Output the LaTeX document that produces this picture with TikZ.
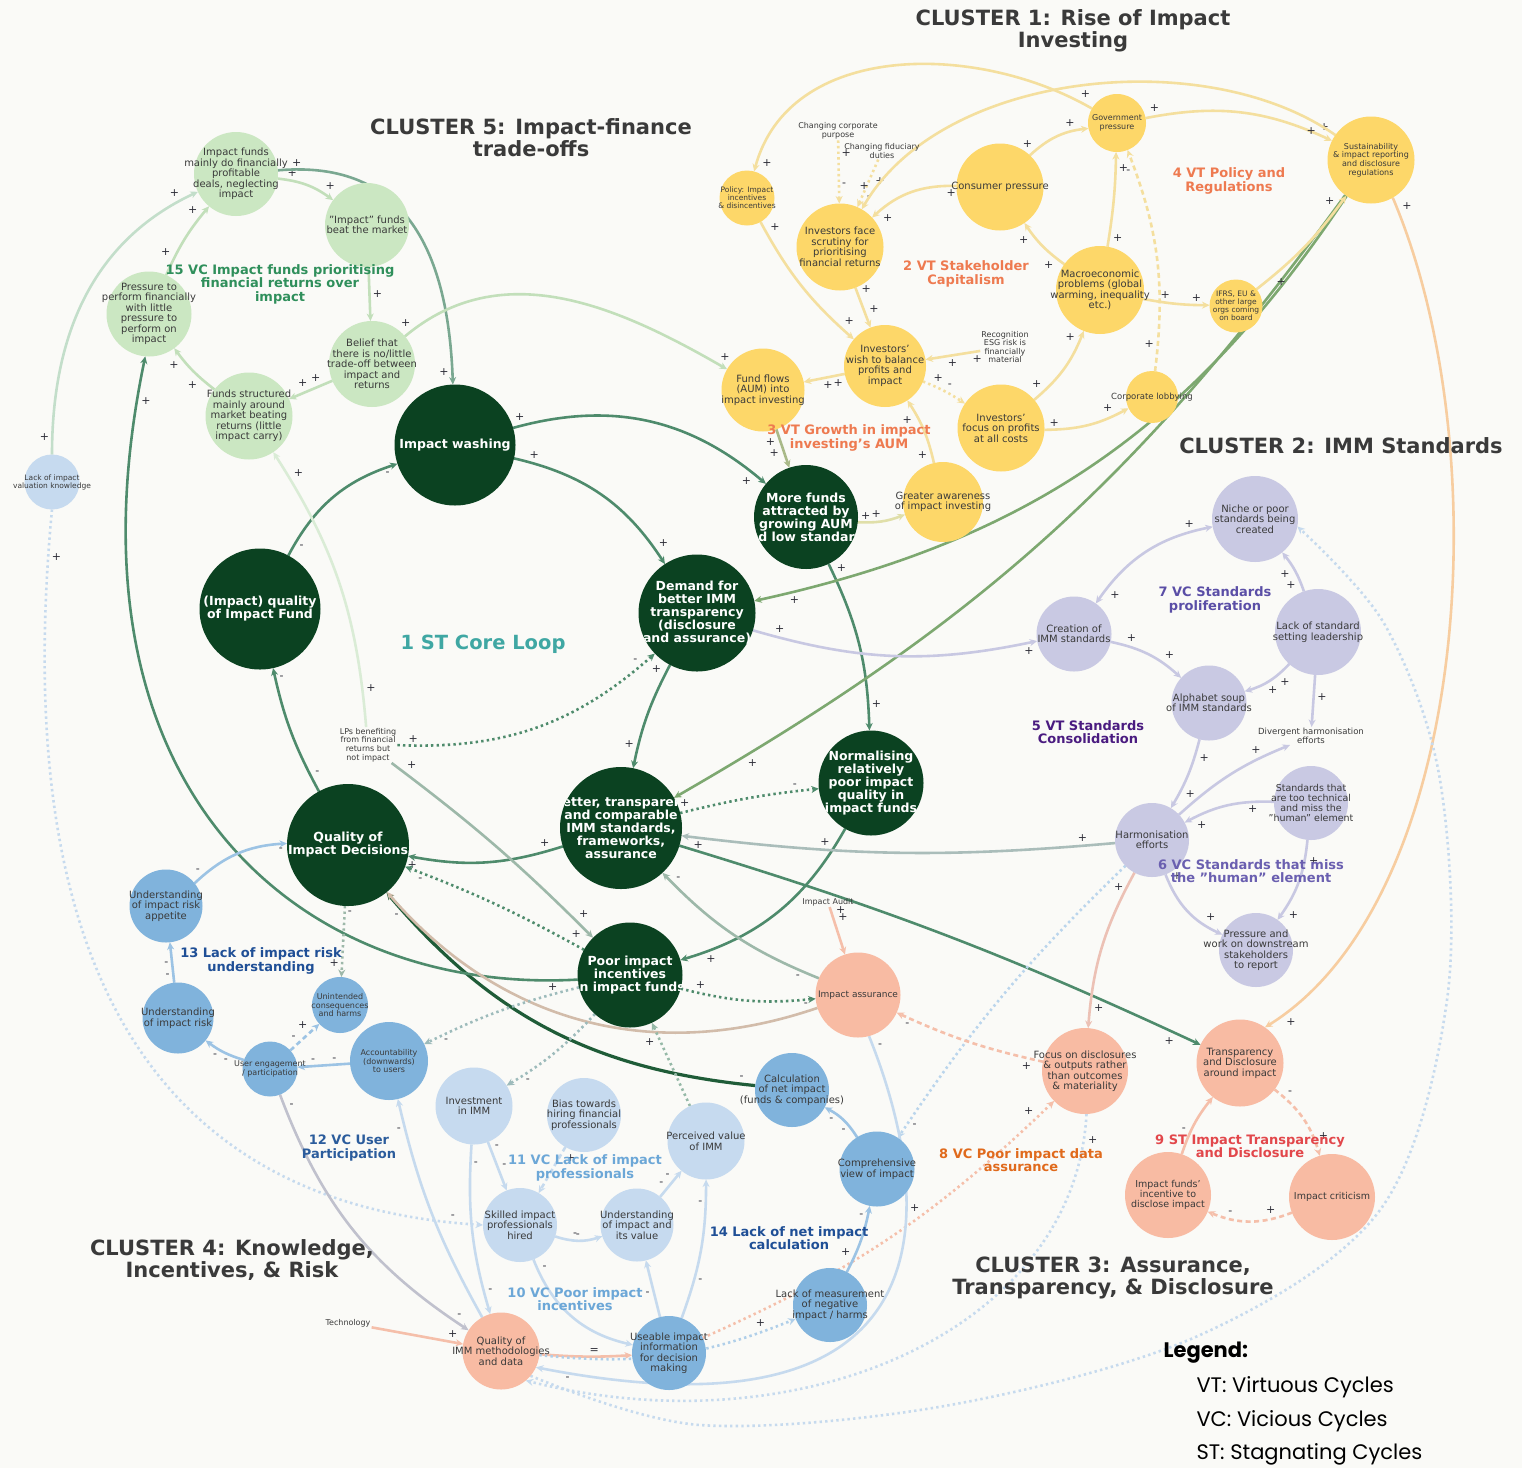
\documentclass[tikz,border=0pt]{standalone}
\usepackage{fontspec}
\setmainfont{DejaVu Sans}
\newfontfamily\legendfont{Poppins}
\usetikzlibrary{arrows.meta}
\pgfdeclarelayer{back}
\pgfdeclarelayer{links}
\pgfsetlayers{back,links,main}

\definecolor{paper}{HTML}{FAFAF7}
\definecolor{corefill}{HTML}{0B4221}
\definecolor{yelfill}{HTML}{FDD769}
\definecolor{grnfill}{HTML}{CBE7C2}
\definecolor{lavfill}{HTML}{C9C9E3}
\definecolor{salfill}{HTML}{F8BBA3}
\definecolor{blufill}{HTML}{80B3DC}
\definecolor{lblfill}{HTML}{C6DAEF}
\definecolor{txtc}{HTML}{3A3A3A}
\definecolor{sgc}{HTML}{2E2E38}
\definecolor{titlec}{HTML}{3A3A3A}
\definecolor{ecore}{HTML}{4E8B6C}
\definecolor{edark}{HTML}{1F5C38}
\definecolor{eyel}{HTML}{F4DF9E}
\definecolor{eolive}{HTML}{7DA870}
\definecolor{egrn}{HTML}{C2DFBA}
\definecolor{elav}{HTML}{C8C8E2}
\definecolor{esal}{HTML}{F5BFAA}
\definecolor{eblu}{HTML}{9CC3E4}
\definecolor{epale}{HTML}{C6DAEE}
\definecolor{eora}{HTML}{F7CDA0}
\definecolor{egray}{HTML}{9DB8A9}
% loop name colours
\definecolor{cteal}{HTML}{3FA7A3}
\definecolor{corg}{HTML}{EE7A50}
\definecolor{cgrn}{HTML}{2F8F5B}
\definecolor{cpur}{HTML}{5A4EA6}
\definecolor{cdpur}{HTML}{4A1B80}
\definecolor{cmpur}{HTML}{6A5FB0}
\definecolor{cdorg}{HTML}{E06A1C}
\definecolor{cred}{HTML}{E2474B}
\definecolor{cnavy}{HTML}{1F4F96}
\definecolor{cnavy2}{HTML}{2B5C9C}
\definecolor{csky}{HTML}{6CA7D7}

\tikzset{
  bubble/.style={circle, inner sep=0pt, outer sep=0pt},
  core/.style={bubble, fill=corefill},
  yel/.style={bubble, fill=yelfill},
  grn/.style={bubble, fill=grnfill},
  lav/.style={bubble, fill=lavfill},
  sal/.style={bubble, fill=salfill},
  blu/.style={bubble, fill=blufill},
  lbl/.style={bubble, fill=lblfill},
  coret/.style={text=white, align=center, inner sep=0pt, font=\fontsize{12.5}{13}\selectfont\bfseries},
  plaint/.style={text=txtc, align=center, inner sep=0pt},
  note/.style={text=txtc, align=center, inner sep=1pt, font=\fontsize{8}{8.6}\selectfont},
  link/.style={line width=2.6pt, -{Stealth[length=7.5pt,width=7pt]}},
  lc/.style={link, draw=ecore},
  ly/.style={link, draw=eyel},
  lg/.style={link, draw=egrn},
  ll/.style={link, draw=elav},
  ls/.style={link, draw=esal},
  lb/.style={link, draw=eblu},
  lp/.style={link, draw=epale},
  dotl/.style={dash pattern=on 2.4pt off 3.2pt},
  dshl/.style={dash pattern=on 5pt off 3.5pt},
  sg/.style={auto, font=\fontsize{11}{11}\selectfont, text=sgc, inner sep=2pt},
  loopname/.style={font=\fontsize{13}{13.5}\selectfont\bfseries, align=center},
  title/.style={font=\fontsize{21}{22}\selectfont\bfseries, align=center, text=titlec},
  legendt/.style={anchor=west, text=black, font=\legendfont\fontsize{21}{21}\selectfont},
}

% core bubble: text clipped to the disc
\newcommand\corebub[4]{\node[core, minimum size=#1pt,
  path picture={\node[coret] at (path picture bounding box.center) {#4};}] (#2) at (#3) {};}
% ordinary bubble: style, diameter, font size, leading, name, position, text
\newcommand\bub[7]{\node[#1, minimum size=#2pt,
  label={[plaint, font=\fontsize{#3}{#4}\selectfont]center:{#7}}] (#5) at (#6) {};}

\begin{document}
\begin{tikzpicture}[x=1pt,y=1pt]
\begin{pgfonlayer}{back}
\fill[paper] (0,0) rectangle (1522,-1468);
\end{pgfonlayer}
\useasboundingbox (0,0) rectangle (1522,-1468);

% ---------------- core loop
\corebub{121}{iw}{455,-445}{Impact washing}
\corebub{104}{mf}{806,-517}{More funds\\attracted by\\growing AUM\\and low standards}
\corebub{117}{db}{697,-613}{Demand for\\better IMM\\transparency\\(disclosure\\and assurance)}
\corebub{121}{iq}{260,-609}{(Impact) quality\\of Impact Fund}
\corebub{105}{nr}{871,-783}{Normalising\\relatively\\poor impact\\quality in\\impact funds}
\corebub{122}{bt}{621,-828}{Better, transparent\\and comparable\\IMM standards,\\frameworks,\\assurance}
\corebub{122}{qd}{348,-845}{Quality of\\Impact Decisions}
\corebub{105}{pi}{630,-975}{Poor impact\\incentives\\in impact funds}
\node[note] (lps) at (368,-745) {LPs benefiting\\from financial\\returns but\\not impact};

% ---------------- cluster 1
\bub{yel}{58}{8}{8.6}{gp}{1117,-123}{Government\\pressure}
\bub{yel}{87}{8}{8.6}{si}{1371,-160}{Sustainability\\\& impact reporting\\and disclosure\\regulations}
\bub{yel}{55}{7.5}{8}{po}{747,-198}{Policy: Impact\\incentives\\\& disincentives}
\bub{yel}{87}{10}{10.5}{cp}{1000,-187}{Consumer pressure}
\bub{yel}{87}{10}{10.5}{iff}{840,-247}{Investors face\\scrutiny for\\prioritising\\financial returns}
\bub{yel}{88}{10}{10.5}{mp}{1100,-290}{Macroeconomic\\problems (global\\warming, inequality\\etc.)}
\bub{yel}{53}{7.5}{8}{ir}{1236,-306}{IFRS, EU \&\\other large\\orgs coming\\on board}
\bub{yel}{82}{10}{10.5}{ib}{885,-366}{Investors'\\wish to balance\\profits and\\impact}
\bub{yel}{83}{10}{10.5}{ff}{763,-390}{Fund flows\\(AUM) into\\impact investing}
\bub{yel}{52}{8.5}{9}{cl}{1152,-397}{Corporate lobbying}
\bub{yel}{87}{10}{10.5}{ip}{1001,-428}{Investors'\\focus on profits\\at all costs}
\bub{yel}{80}{10}{10.5}{ga}{943,-502}{Greater awareness\\of impact investing}
\node[note] (re) at (1005,-347) {Recognition\\ESG risk is\\financially\\material};
\node[note] (ccp) at (838,-131) {Changing corporate\\purpose};
\node[note] (cfd) at (882,-151) {Changing fiduciary\\duties};

% ---------------- cluster 5
\bub{grn}{84}{10}{10.5}{ifm}{236,-174}{Impact funds\\mainly do financially\\profitable\\deals, neglecting\\impact}
\bub{grn}{84}{10}{10.5}{bm}{367,-225}{"Impact" funds\\beat the market}
\bub{grn}{85}{10}{10.5}{pp}{149,-314}{Pressure to\\perform financially\\with little\\pressure to\\perform on\\impact}
\bub{grn}{86}{10}{10.5}{bl}{372,-364}{Belief that\\there is no/little\\trade-off between\\impact and\\returns}
\bub{grn}{87}{10}{10.5}{fs}{249,-416}{Funds structured\\mainly around\\market beating\\returns (little\\impact carry)}
\bub{lbl}{55}{7.5}{8}{lv}{52,-482}{Lack of impact\\valuation knowledge}

% ---------------- cluster 2
\bub{lav}{86}{10}{10.5}{np}{1255,-519}{Niche or poor\\standards being\\created}
\bub{lav}{75}{10}{10.5}{ci}{1074,-634}{Creation of\\IMM standards}
\bub{lav}{86}{10}{10.5}{ls}{1318,-632}{Lack of standard\\setting leadership}
\bub{lav}{75}{10}{10.5}{as}{1209,-703}{Alphabet soup\\of IMM standards}
\node[note, font=\fontsize{8.5}{9}\selectfont] (dh) at (1311,-736) {Divergent harmonisation\\efforts};
\bub{lav}{74}{9.5}{10}{st}{1311,-803}{Standards that\\are too technical\\and miss the\\"human" element}
\bub{lav}{74}{10}{10.5}{he}{1152,-840}{Harmonisation\\efforts}
\bub{lav}{74}{10}{10.5}{pw}{1256,-950}{Pressure and\\work on downstream\\stakeholders\\to report}

% ---------------- cluster 3
\bub{sal}{85}{9}{9.5}{ia}{858,-995}{Impact assurance}
\bub{sal}{86}{10}{10.5}{fd}{1085,-1071}{Focus on disclosures\\\& outputs rather\\than outcomes\\\& materiality}
\bub{sal}{87}{10}{10.5}{td}{1240,-1063}{Transparency\\and Disclosure\\around impact}
\bub{sal}{86}{9.5}{10}{ifi}{1168,-1195}{Impact funds'\\incentive to\\disclose impact}
\bub{sal}{86}{9.5}{10}{ic}{1332,-1197}{Impact criticism}
\node[note] (iau) at (828,-902) {Impact Audit};

% ---------------- cluster 4
\bub{blu}{73}{10}{10.5}{ua}{166,-906}{Understanding\\of impact risk\\appetite}
\bub{blu}{71}{10}{10.5}{ur}{178,-1018}{Understanding\\of impact risk}
\bub{blu}{56}{8}{8.5}{uc}{340,-1005}{Unintended\\consequences\\and harms}
\bub{blu}{55}{8}{8.5}{ue}{270,-1069}{User engagement\\/ participation}
\bub{blu}{78}{8}{8.5}{au}{389,-1061}{Accountability\\(downwards)\\to users}
\bub{blu}{74}{10}{10.5}{cn}{792,-1090}{Calculation\\of net impact\\(funds \& companies)}
\bub{blu}{75}{10}{10.5}{cv}{877,-1169}{Comprehensive\\view of impact}
\bub{blu}{74}{10}{10.5}{lm}{830,-1305}{Lack of measurement\\of negative\\impact / harms}
\bub{blu}{74}{10}{10.5}{ui}{669,-1353}{Useable impact\\information\\for decision\\making}
\bub{lbl}{77}{10}{10.5}{ii}{474,-1106}{Investment\\in IMM}
\bub{lbl}{74}{10}{10.5}{bh}{584,-1115}{Bias towards\\hiring financial\\professionals}
\bub{lbl}{77}{10}{10.5}{pv}{706,-1141}{Perceived value\\of IMM}
\bub{lbl}{74}{10}{10.5}{sk}{520,-1225}{Skilled impact\\professionals\\hired}
\bub{lbl}{73}{10}{10.5}{uv}{637,-1225}{Understanding\\of impact and\\its value}
\bub{sal}{77}{10}{10.5}{qm}{501,-1351}{Quality of\\IMM methodologies\\and data}
\node[note] (tech) at (348,-1323) {Technology};

% ---------------- connectors
\begin{pgfonlayer}{links}
% core loop
\draw[lc] (iq) to[bend left=22] node[sg,pos=.1,swap]{-} node[sg,pos=.9,swap]{-} (iw);
\draw[lc] (iw) to[bend left=22] node[sg,pos=.06]{+} node[sg,pos=.92]{+} (db);
\draw[lc] (iw) to[bend left=28] node[sg,pos=.05]{+} node[sg,pos=.95,swap]{+} (mf);
\draw[lc] (db) to[bend right=8] node[sg,pos=.1,swap]{+} node[sg,pos=.85,swap]{+} (bt);
\draw[lc] (mf) to[bend left=12] node[sg,pos=.06]{+} node[sg,pos=.9]{+} (nr);
\draw[lc] (nr) to[bend left=22] node[sg,pos=.1,swap]{+} node[sg,pos=.9]{+} (pi);
\draw[lc] (bt) to[bend left=14] node[sg,pos=.06,swap]{+} node[sg,pos=.93]{+} (qd);
\draw[lc] (qd) to[bend left=8] node[sg,pos=.1,swap]{-} node[sg,pos=.9,swap]{-} (iq);
\draw[lc, dotl] (pi) to[bend right=4] node[sg,pos=.08,swap]{+} node[sg,pos=.9]{-} (qd);
\draw[link, draw=edark, line width=3.2pt] (cn) to[bend left=22] node[sg,pos=.04,swap]{-} node[sg,pos=.95]{-} (qd);
\draw[lc] (pi.185) .. controls (300,-995) and (55,-790) .. node[sg,pos=.03]{+} node[sg,pos=.97,swap]{+} (pp.-95);
\draw[lc, dotl] (lps) to[bend right=22] node[sg,pos=.05]{+} node[sg,pos=.94]{-} (db);
\draw[link, draw=egray] (lps) to[bend left=4] node[sg,pos=.05]{+} node[sg,pos=.92]{+} (pi);
\draw[lc, dotl] (bt) to[bend left=4] node[sg,pos=.08]{+} node[sg,pos=.88]{-} (nr);
\draw[link, draw=egray] (ia) to[bend left=12] node[sg,pos=.08]{-} node[sg,pos=.93,swap]{-} (bt);
\draw[lc, dotl] (pi) to[bend right=10] node[sg,pos=.08]{+} node[sg,pos=.9,swap]{-} (ia);
\draw[link, draw=esal!60!egray] (ia) to[bend left=34] (qd);
\draw[link, draw=eolive] (si) to[bend left=22] node[sg,pos=.96]{+} (db);
\draw[link, draw=eolive] (si) to[bend left=12] node[sg,pos=.92]{+} (bt);
\draw[link, draw=egray!70!elav] (he) to[bend left=6] node[sg,pos=.05,swap]{+} node[sg,pos=.95]{+} (bt);
\draw[lc] (bt) to[bend left=4] node[sg,pos=.96,swap]{+} (td);
\draw[ll] (db) to[bend right=14] node[sg,pos=.06]{+} node[sg,pos=.95,swap]{+} (ci);
\draw[link, draw=eyel!60!egrn] (mf) to[bend right=12] node[sg,pos=.15]{+} node[sg,pos=.55]{+} (ga);

% cluster 1
\draw[ly] (gp) to[bend left=18] node[sg,pos=.08]{+} node[sg,pos=.92]{+} (si);
\draw[ly] (cp) to[bend left=18] node[sg,pos=.1]{+} node[sg,pos=.85]{+} (gp);
\draw[ly] (mp) to[bend left=10] node[sg,pos=.15]{+} node[sg,pos=.8]{+} (cp);
\draw[ly] (mp) to[bend right=4] node[sg,pos=.15,swap]{+} node[sg,pos=.85,swap]{+} (gp);
\draw[ly] (mp) to[bend right=5] node[sg,pos=.2]{+} node[sg,pos=.7]{+} (ir);
\draw[ly] (ir) to[bend right=8] node[sg,pos=.15,swap]{+} node[sg,pos=.9]{+} (si);
\draw[ly] (cp) to[bend right=22] node[sg,pos=.05]{+} node[sg,pos=.9]{+} (iff);
\draw[ly, dshl] (cl) to[bend right=14] node[sg,pos=.08]{+} node[sg,pos=.93]{-} (gp);
\draw[ly] (ip) to[bend right=14] node[sg,pos=.1]{+} node[sg,pos=.85]{+} (cl);
\draw[ly] (ip) to[bend right=14] node[sg,pos=.15]{+} node[sg,pos=.85]{+} (mp);
\draw[ly] (ga) to[bend right=10] node[sg,pos=.2]{+} node[sg,pos=.8]{+} (ib);
\draw[ly, dotl] (ib) to[bend left=6] node[sg,pos=.15]{+} node[sg,pos=.5]{-} (ip);
\draw[ly] (re) -- node[sg,pos=.2]{+} node[sg,pos=.65]{+} (ib);
\draw[ly] (ib) -- node[sg,pos=.35]{+} node[sg,pos=.6]{+} (ff);
\draw[ly] (iff) -- node[sg,pos=.2]{+} node[sg,pos=.7]{+} (ib);
\draw[ly] (po) to[bend right=10] node[sg,pos=.08]{+} node[sg,pos=.9]{+} (ib);
\draw[link, draw=eyel!55!ecore] (ff) -- node[sg,pos=.15,swap]{+} node[sg,pos=.45,swap]{+} (mf);
\draw[ly, dotl] (ccp) -- node[sg,pos=.2]{+} node[sg,pos=.7]{-} (iff);
\draw[ly, dotl] (cfd) -- node[sg,pos=.3]{+} node[sg,pos=.7]{-} (iff);
\draw[ly] (gp) to[out=150,in=75] node[sg,pos=.04,swap]{+} node[sg,pos=.96]{+} (po);
\draw[ly] (si) to[out=145,in=60,looseness=.85] node[sg,pos=.04]{+} node[sg,pos=.96,swap]{+} (iff);
\draw[link, draw=eora] (si.-60) .. controls (1500,-450) and (1470,-900) .. node[sg,pos=.02]{+} node[sg,pos=.97]{+} (td.55);

% cluster 5
\draw[lg] (ifm) to[bend left=15] node[sg,pos=.1]{+} node[sg,pos=.8]{+} (bm);
\draw[lg] (bm) -- node[sg,pos=.5]{+} (bl);
\draw[lg] (bl) -- node[sg,pos=.2,swap]{+} node[sg,pos=.5,swap]{+} (fs);
\draw[lg] (fs) to[bend left=8] node[sg,pos=.3]{+} node[sg,pos=.8]{+} (pp);
\draw[lg] (pp) to[bend left=8] node[sg,pos=.2]{+} node[sg,pos=.85]{+} (ifm);
\draw[link, draw=egrn!70!epale] (lv) to[out=90,in=205] node[sg,pos=.05]{+} node[sg,pos=.95]{+} (ifm);
\draw[link, draw=ecore!75!white] (ifm) to[out=5,in=92,looseness=1.2] node[sg,pos=.05]{+} node[sg,pos=.95,swap]{+} (iw);
\draw[lg] (bl) to[out=40,in=150] node[sg,pos=.03]{+} node[sg,pos=.97]{+} (ff);
\draw[link, draw=egrn!60!white] (lps) to[bend right=14] node[sg,pos=.1,swap]{+} node[sg,pos=.9,swap]{+} (fs);
\draw[lp, dotl] (lv.-90) .. controls (20,-850) and (80,-1200) .. node[sg,pos=.04]{+} node[sg,pos=.97]{-} (sk.180);

% cluster 2
\draw[ll, {Stealth[length=7.5pt,width=7pt]}-{Stealth[length=7.5pt,width=7pt]}] (np) to[bend right=22] node[sg,pos=.1,swap]{+} node[sg,pos=.88]{+} (ci);
\draw[ll] (ci) to[bend left=15] node[sg,pos=.15]{+} node[sg,pos=.7]{+} (as);
\draw[ll] (ls) to[bend left=15] node[sg,pos=.3]{+} node[sg,pos=.6]{+} (as);
\draw[ll] (ls) to[bend right=10] node[sg,pos=.3]{+} node[sg,pos=.6]{+} (np);
\draw[ll] (ls) -- node[sg,pos=.3]{+} (dh);
\draw[ll] (as) to[bend left=8] node[sg,pos=.15]{+} node[sg,pos=.7]{+} (he);
\draw[ll] (he) to[bend left=10] node[sg,pos=.8]{+} (dh);
\draw[ll] (st) to[bend right=15] node[sg,pos=.3]{+} node[sg,pos=.9]{+} (he);
\draw[ll] (st) to[bend left=15] node[sg,pos=.15]{+} node[sg,pos=.85]{+} (pw);
\draw[ll] (he) to[bend right=22] node[sg,pos=.1]{+} node[sg,pos=.75]{+} (pw);
\draw[link, draw=esal!80!elav] (he) to[bend right=12] node[sg,pos=.85]{+} (fd);
\draw[link, draw=eblu!70!white, dotl] (he) to[bend right=6] node[sg,pos=.05]{+} node[sg,pos=.95]{-} (cv);
\draw[lp, dotl] plot[smooth, tension=.55] coordinates {(qm.-40) (700,-1425) (950,-1405) (1200,-1335) (1380,-1210) (1447,-1000) (1440,-780) (1385,-625) (np.-10)};

% cluster 3
\draw[ls] (iau) -- node[sg,pos=.2]{+} node[sg,pos=.35]{+} (ia);
\draw[ls, dshl] (fd) to[bend left=6] node[sg,pos=.05]{+} node[sg,pos=.9]{-} (ia);
\draw[ls, dshl] (td) to[bend left=18] node[sg,pos=.15]{-} node[sg,pos=.85]{+} (ic);
\draw[ls, dshl] (ic) to[bend left=22] node[sg,pos=.15,swap]{+} node[sg,pos=.8,swap]{-} (ifi);
\draw[ls] (ifi) to[bend left=10] node[sg,pos=.3]{-} (td);
\draw[ls, dotl] (ui) to[bend right=10] node[sg,pos=.6]{+} node[sg,pos=.95]{+} (fd);
\draw[lp, dotl] (fd.-88) .. controls (1075,-1330) and (800,-1450) .. node[sg,pos=.03]{+} (qm.-50);
\draw[lp] (ia.-75) .. controls (935,-1200) and (960,-1450) .. node[sg,pos=.03]{-} node[sg,pos=.97]{-} (qm.-25);

% cluster 4
\draw[lb] (ua) to[bend left=20] node[sg,pos=.1]{-} node[sg,pos=.9,swap]{-} (qd);
\draw[lb] (ur) -- node[sg,pos=.3]{-} node[sg,pos=.6]{-} (ua);
\draw[lb] (ue) to[bend left=10] node[sg,pos=.3]{-} node[sg,pos=.6]{-} (ur);
\draw[lb] (au) -- node[sg,pos=.2,swap]{-} node[sg,pos=.6,swap]{-} (ue);
\draw[lb, dshl] (ue) -- node[sg,pos=.3]{-} node[sg,pos=.7]{+} (uc);
\draw[link, draw=egray, dotl] (qd) -- node[sg,pos=.1]{-} node[sg,pos=.8,swap]{+} (uc);
\draw[link, draw=egray!70!eblu, dotl] (pi) to[bend right=6] node[sg,pos=.9]{-} (au);
\draw[link, draw=egray!70!eblu, dotl] (pi) to[bend left=8] node[sg,pos=.85]{-} (ii);
\draw[link, draw=eblu!60!esal] (ue) to[bend right=18] node[sg,pos=.05]{-} node[sg,pos=.95]{-} (qm);
\draw[lp] (qm) to[bend left=8] node[sg,pos=.9]{-} (au);
\draw[lp] (ii) to[bend right=10] node[sg,pos=.1]{-} node[sg,pos=.9]{-} (qm);
\draw[lp] (ii) -- node[sg,pos=.2]{-} node[sg,pos=.6]{-} (sk);
\draw[lp] (sk) to[bend right=18] node[sg,pos=.3]{-} node[sg,pos=.6]{-} (uv);
\draw[lp, dshl] (bh) -- node[sg,pos=.1]{+} (sk);
\draw[lp] (uv) -- node[sg,pos=.3]{-} node[sg,pos=.6]{-} (pv);
\draw[lp] (ui) -- node[sg,pos=.5]{-} (uv);
\draw[lp] (ui) to[bend right=10] node[sg,pos=.3,swap]{-} node[sg,pos=.85]{-} (pv);
\draw[lp] (sk) to[bend right=28] node[sg,pos=.1]{-} (ui);
\draw[ls] (qm) to[bend right=4] node[sg,pos=.6]{=} (ui);
\draw[link, draw=ecore!60!white, dotl] (pv) -- node[sg,pos=.85]{+} (pi);
\draw[lb] (cv) to[bend right=15] node[sg,pos=.3]{-} node[sg,pos=.7]{-} (cn);
\draw[lb] (lm) to[bend right=8] node[sg,pos=.2]{+} node[sg,pos=.8]{-} (cv);
\draw[ls] (tech) -- node[sg,pos=.8]{+} (qm);
\draw[link, draw=eblu!80!white, dotl] (qm) to[bend right=14] node[sg,pos=.9]{+} (lm);
\end{pgfonlayer}

% ---------------- loop names
\node[loopname, text=cteal, font=\fontsize{19.5}{20}\selectfont\bfseries] (n1) at (483,-644) {1 ST Core Loop};
\node[loopname, text=corg] (n2) at (966,-274) {2 VT Stakeholder\\Capitalism};
\node[loopname, text=corg] (n3) at (849,-438) {3 VT Growth in impact\\investing's AUM};
\node[loopname, text=corg] (n4) at (1229,-181) {4 VT Policy and\\Regulations};
\node[loopname, text=cdpur] (n5) at (1088,-732) {5 VT Standards\\Consolidation};
\node[loopname, text=cmpur] (n6) at (1251,-871) {6 VC Standards that miss\\the "human" element};
\node[loopname, text=cpur] (n7) at (1215,-600) {7 VC Standards\\proliferation};
\node[loopname, text=cdorg] (n8) at (1021,-1160) {8 VC Poor impact data\\assurance};
\node[loopname, text=cred] (n9) at (1250,-1146) {9 ST Impact Transparency\\and Disclosure};
\node[loopname, text=csky] (n10) at (575,-1299) {10 VC Poor impact\\incentives};
\node[loopname, text=csky] (n11) at (585,-1168) {11 VC Lack of impact\\professionals};
\node[loopname, text=cnavy2] (n12) at (349,-1148) {12 VC User\\Participation};
\node[loopname, text=cnavy] (n13) at (261,-961) {13 Lack of impact risk\\understanding};
\node[loopname, text=cnavy] (n14) at (789,-1238) {14 Lack of net impact\\calculation};
\node[loopname, text=cgrn] (n15) at (280,-284) {15 VC Impact funds prioritising\\financial returns over\\impact};

% ---------------- cluster titles
\node[title] (t1) at (1073,-31) {CLUSTER 1: Rise of Impact\\Investing};
\node[title] (t5) at (531,-138) {CLUSTER 5: Impact-finance\\trade-offs};
\node[title] (t2) at (1341,-446) {CLUSTER 2: IMM Standards};
\node[title] (t3) at (1113,-1278) {CLUSTER 3: Assurance,\\Transparency, \& Disclosure};
\node[title] (t4) at (232,-1260) {CLUSTER 4: Knowledge,\\Incentives, \& Risk};

% ---------------- legend
\node[legendt, font=\legendfont\fontsize{21}{21}\selectfont\bfseries] (lg0) at (1160,-1353) {Legend:};
\node[legendt] (lg1) at (1193,-1387) {VT: Virtuous Cycles};
\node[legendt] (lg2) at (1193,-1421) {VC: Vicious Cycles};
\node[legendt] (lg3) at (1193,-1454) {ST: Stagnating Cycles};
\end{tikzpicture}
\end{document}
